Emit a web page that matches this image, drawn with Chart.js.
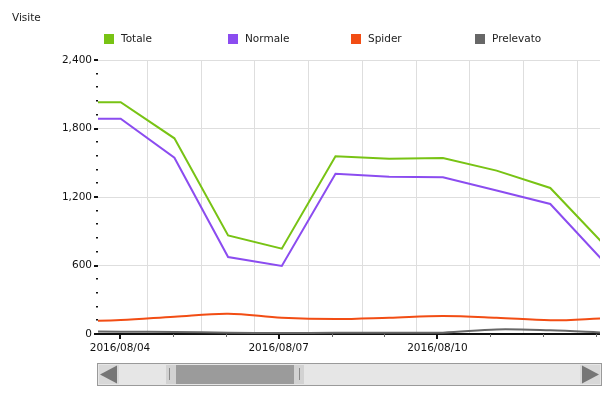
<!DOCTYPE html>
<html><head><meta charset="utf-8">
<script src="https://cdn.jsdelivr.net/npm/chart.js@4"></script>
<style>html,body{margin:0;padding:0;background:#fff}#wrap{width:610px;height:393px;position:relative}</style>
</head><body><div id="wrap"><canvas id="c" width="610" height="393"></canvas></div>
<script>
const chartTitle = 'Visite';
const dates = ['2016/08/03','2016/08/04','2016/08/05','2016/08/06','2016/08/07','2016/08/08','2016/08/09','2016/08/10','2016/08/11','2016/08/12','2016/08/13'];
const totale    = [2030, 2030, 1714, 864, 747, 1556, 1536, 1542, 1431, 1279, 784];
const normale   = [1886, 1886, 1544, 674, 596, 1404, 1378, 1372, 1257, 1139, 633];
const spider    = [110, 123, 152, 178, 143, 131, 143, 158, 143, 120, 138];
const prelevato = [22, 20, 18, 12, 8, 10, 12, 12, 40, 32, 12];
const seriesNames = ['Totale', 'Normale', 'Spider', 'Prelevato'];
const seriesColors = ['#78c314', '#8b4cf0', '#f24d14', '#676767'];
const xTickLabels = ['2016/08/04', '2016/08/07', '2016/08/10'];
const yMax = 2400, yMajorStep = 600, yMinorStep = 120;

const FONT_FAMILY = '"DejaVu Sans", sans-serif';
const FONT_SIZE = 10.5;
const FONT = FONT_SIZE + 'px ' + FONT_FAMILY;
const dayIndex = d => dates.indexOf(d) - 1; // 2016/08/04 -> 0

function pts(arr) { return arr.map((v, i) => ({ x: i - 1, y: v })); }
const seriesData = [totale, normale, spider, prelevato];
const tensions = [0, 0, 0.35, 0.35];

const decor = {
  id: 'decor',
  beforeDatasetsDraw(chart) {
    const { ctx, chartArea: a } = chart;
    const y = chart.scales.y, xt = chart.scales.xt;
    ctx.save();
    ctx.fillStyle = '#111';
    for (let v = 0; v <= yMax; v += yMinorStep) {
      const py = Math.round(y.getPixelForValue(v));
      if (v % yMajorStep === 0) ctx.fillRect(a.left - 4, py - 1, 4, 2);
      else ctx.fillRect(a.left - 2, py - 1, 2, 1.5);
    }
    ctx.fillStyle = '#111';
    ctx.fillRect(a.left, a.bottom - 1, a.right - a.left, 2);
    for (let d = 0; d < dates.length - 1; d++) {
      const px = xt.getPixelForValue(d);
      if (px > a.right - 2) continue;
      const major = xTickLabels.includes(dates[d + 1]);
      ctx.fillStyle = major ? '#111' : '#666';
      ctx.fillRect(Math.round(px) - (major ? 1 : 0), a.bottom, major ? 2 : 1, major ? 5 : 3);
    }
    ctx.restore();
  },
  afterDraw(chart) {
    const { ctx } = chart;
    ctx.save();
    ctx.font = FONT;
    ctx.fillStyle = '#222';
    ctx.textBaseline = 'middle';
    ctx.textAlign = 'left';
    ctx.fillText(chartTitle, 12, 18);
    // legend
    chart.data.datasets.forEach((ds, i) => {
      const lx = 104 + i * 123.7;
      ctx.fillStyle = ds.borderColor;
      ctx.fillRect(Math.round(lx), 34, 10, 10);
      ctx.fillStyle = '#222';
      ctx.fillText(ds.label, Math.round(lx) + 17, 39.5);
    });
    // scrollbar (navigator)
    ctx.fillStyle = '#e6e6e6';
    ctx.fillRect(97.5, 363.5, 504, 22);
    ctx.strokeStyle = '#9a9a9a';
    ctx.lineWidth = 1;
    ctx.strokeRect(97.5, 363.5, 504, 22);
    ctx.fillStyle = '#d8d8d8';
    ctx.fillRect(99, 365, 20, 19);
    ctx.fillRect(580, 365, 20, 19);
    ctx.fillStyle = '#767676';
    ctx.beginPath(); ctx.moveTo(100, 374.5); ctx.lineTo(117, 365.5); ctx.lineTo(117, 383.5); ctx.closePath(); ctx.fill();
    ctx.beginPath(); ctx.moveTo(599, 374.5); ctx.lineTo(582, 365.5); ctx.lineTo(582, 383.5); ctx.closePath(); ctx.fill();
    ctx.fillStyle = '#d2d2d2';
    ctx.fillRect(166, 365, 10, 19);
    ctx.fillRect(294, 365, 10, 19);
    ctx.fillStyle = '#9b9b9b';
    ctx.fillRect(176, 365, 118, 19);
    ctx.fillStyle = '#8a8a8a';
    ctx.fillRect(169, 368, 1, 12);
    ctx.fillRect(299, 368, 1, 12);
    ctx.restore();
  }
};

new Chart(document.getElementById('c'), {
  type: 'line',
  data: {
    datasets: seriesNames.map((name, i) => ({
      label: name,
      data: pts(seriesData[i]),
      borderColor: seriesColors[i],
      backgroundColor: seriesColors[i],
      borderWidth: 2,
      pointRadius: 0,
      tension: tensions[i],
      fill: false
    })).reverse().reverse()
  },
  options: {
    responsive: false,
    animation: false,
    devicePixelRatio: 1,
    layout: { padding: { top: 60, right: 10, left: 0, bottom: 0 } },
    plugins: { legend: { display: false }, title: { display: false }, tooltip: { enabled: false } },
    scales: {
      x: {
        type: 'linear', position: 'bottom',
        min: -0.4227, max: 8.9255,
        afterBuildTicks: s => { s.ticks = []; for (let d = 0; d < dates.length - 2; d++) s.ticks.push({ value: d + 0.5 }); },
        ticks: { display: false },
        grid: { color: '#dedede', drawTicks: false, lineWidth: 1 },
        border: { display: false },
        afterFit: s => { s.height = 0; }
      },
      xt: {
        type: 'linear', position: 'bottom',
        min: -0.416, max: 9.074,
        afterBuildTicks: s => { s.ticks = xTickLabels.map(l => ({ value: dayIndex(l) })); },
        ticks: {
          autoSkip: false, maxRotation: 0, padding: 8, color: '#111',
          font: { family: FONT_FAMILY, size: FONT_SIZE },
          callback: v => dates[v + 1]
        },
        grid: { display: false, drawTicks: false },
        border: { display: false },
        afterFit: s => { s.height = 59; }
      },
      y: {
        min: 0, max: yMax,
        afterBuildTicks: s => { s.ticks = []; for (let v = 0; v <= yMax; v += yMajorStep) s.ticks.push({ value: v }); },
        ticks: {
          padding: 6, color: '#111',
          font: { family: FONT_FAMILY, size: FONT_SIZE },
          callback: v => v.toLocaleString('en-US')
        },
        grid: { color: '#dedede', drawTicks: false },
        border: { display: false },
        afterFit: s => { s.width = 98; }
      }
    }
  },
  plugins: [decor]
});
</script></body></html>
